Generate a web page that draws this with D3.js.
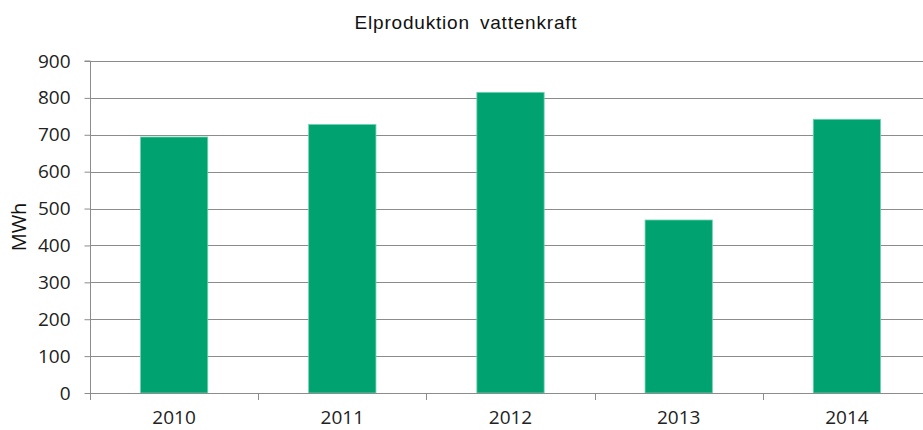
<!DOCTYPE html>
<html>
<head>
<meta charset="utf-8">
<script src="https://cdn.jsdelivr.net/npm/d3@7"></script>
<style>
body { margin: 0; background: #fff; }
svg { display: block; }
</style>
</head>
<body>
<svg></svg>
<script>
var years = ["2010", "2011", "2012", "2013", "2014"];
var values = [694, 728, 815, 469, 742];
var yTicks = [0, 100, 200, 300, 400, 500, 600, 700, 800, 900];

var screen = {width: 923, height: 430};
var margins = {top: 61, left: 90, bottom: 37};
var plotRight = 931;
var height = screen.height - margins.top - margins.bottom;
var labelFont = "'Open Sans', 'Noto Sans', sans-serif";

var svg = d3.select("svg")
    .attr("width", screen.width)
    .attr("height", screen.height);

var xScale = d3.scaleBand()
    .domain(years)
    .range([margins.left, plotRight])
    .paddingInner(0.6)
    .paddingOuter(0.3);

var yScale = d3.scaleLinear()
    .domain([0, 900])
    .range([margins.top + height, margins.top]);

// gridlines
svg.append("g")
    .selectAll("line")
    .data(yTicks.slice(1))
    .enter()
    .append("line")
    .attr("x1", margins.left)
    .attr("x2", plotRight)
    .attr("y1", function(d){ return Math.round(yScale(d)) + 0.5; })
    .attr("y2", function(d){ return Math.round(yScale(d)) + 0.5; })
    .attr("stroke", "#8c8c8c")
    .attr("stroke-width", 1);

// bars
svg.append("g")
    .selectAll("rect")
    .data(values)
    .enter()
    .append("rect")
    .attr("x", function(d, i){ return xScale(years[i]); })
    .attr("width", xScale.bandwidth())
    .attr("y", function(d){ return yScale(d); })
    .attr("height", function(d){ return yScale(0) - yScale(d); })
    .attr("fill", "#00a36f")
    .attr("stroke", "#6fd3b0")
    .attr("stroke-width", 0.8);

// y axis
var yAxis = d3.axisLeft(yScale).tickValues(yTicks).tickSize(6).tickPadding(14);
var gy = svg.append("g")
    .attr("transform", "translate(" + (margins.left + 0.5) + ",0)")
    .call(yAxis);
gy.select(".domain").attr("stroke", "#8c8c8c").attr("d", "M-6," + yScale(900) + "H0V" + yScale(0));
gy.selectAll(".tick line").attr("stroke", "#8c8c8c");
gy.selectAll(".tick text")
    .attr("fill", "#222")
    .style("font-family", labelFont)
    .style("font-size", "19px");

// x axis
var bounds = years.map(function(y){ return xScale(y) - xScale.step() * xScale.paddingInner() / 2; });
var gx = svg.append("g");
gx.append("line")
    .attr("x1", margins.left)
    .attr("x2", plotRight)
    .attr("y1", Math.round(yScale(0)) + 0.5)
    .attr("y2", Math.round(yScale(0)) + 0.5)
    .attr("stroke", "#8c8c8c");
gx.selectAll(".xt")
    .data(bounds)
    .enter()
    .append("line")
    .attr("x1", function(d){ return Math.round(d) + 0.5; })
    .attr("x2", function(d){ return Math.round(d) + 0.5; })
    .attr("y1", yScale(0))
    .attr("y2", yScale(0) + 7)
    .attr("stroke", "#8c8c8c");
gx.selectAll("text")
    .data(years)
    .enter()
    .append("text")
    .attr("x", function(d){ return xScale(d) + xScale.bandwidth() / 2; })
    .attr("y", 424)
    .attr("text-anchor", "middle")
    .attr("fill", "#222")
    .style("font-family", labelFont)
    .style("font-size", "19px")
    .text(function(d){ return d; });

// y label
svg.append("text")
    .attr("transform", "translate(26," + yScale(450) + ") rotate(-90)")
    .attr("text-anchor", "middle")
    .attr("fill", "#111")
    .style("font-family", labelFont)
    .style("font-size", "20px")
    .text("MWh");

// title
svg.append("text")
    .attr("x", 466)
    .attr("y", 29)
    .attr("text-anchor", "middle")
    .attr("fill", "#111")
    .style("font-family", "'Liberation Sans', Arial, sans-serif")
    .style("font-size", "19px")
    .style("letter-spacing", "0.8px")
    .style("word-spacing", "4px")
    .text("Elproduktion vattenkraft");
</script>
</body>
</html>
